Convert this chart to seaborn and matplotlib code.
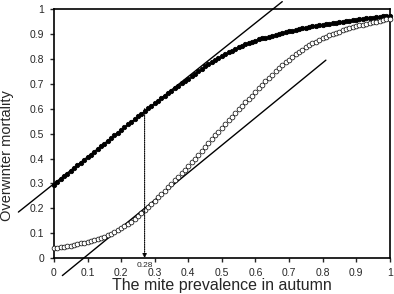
import numpy as np
import pandas as pd
import seaborn as sns
import matplotlib
matplotlib.use("Agg")
import matplotlib.pyplot as plt

sns.set_style("ticks")
plt.rcParams["font.family"] = ["Liberation Sans", "DejaVu Sans"]

# prevalence grid (0 .. 1 by 0.01)
prevalence = [i / 100 for i in range(101)]

# filled curve (upper)
mortality_filled = [
    0.295, 0.306, 0.317, 0.328, 0.339, 0.350, 0.361, 0.372, 0.383, 0.394,
    0.405, 0.416, 0.427, 0.438, 0.449, 0.460, 0.471, 0.482, 0.493, 0.504,
    0.515, 0.526, 0.537, 0.548, 0.559, 0.570, 0.580, 0.591, 0.601, 0.611,
    0.621, 0.632, 0.642, 0.652, 0.662, 0.672, 0.682, 0.692, 0.702, 0.711,
    0.721, 0.731, 0.740, 0.750, 0.760, 0.770, 0.779, 0.788, 0.796, 0.804,
    0.812, 0.819, 0.826, 0.833, 0.840, 0.846, 0.852, 0.858, 0.863, 0.868,
    0.873, 0.878, 0.882, 0.886, 0.890, 0.894, 0.898, 0.901, 0.905, 0.908,
    0.911, 0.914, 0.917, 0.920, 0.923, 0.926, 0.928, 0.931, 0.933, 0.936,
    0.938, 0.940, 0.942, 0.944, 0.946, 0.948, 0.950, 0.952, 0.954, 0.956,
    0.958, 0.960, 0.961, 0.963, 0.965, 0.966, 0.968, 0.969, 0.971, 0.972,
    0.974,
]

# open curve (lower)
mortality_open = [
    0.040, 0.042, 0.044, 0.046, 0.048, 0.050, 0.053, 0.056, 0.059, 0.062,
    0.065, 0.069, 0.073, 0.077, 0.081, 0.086, 0.091, 0.097, 0.104, 0.111,
    0.119, 0.128, 0.137, 0.147, 0.158, 0.170, 0.182, 0.194, 0.206, 0.218,
    0.231, 0.244, 0.257, 0.270, 0.284, 0.298, 0.312, 0.326, 0.340, 0.355,
    0.370, 0.385, 0.400, 0.415, 0.431, 0.446, 0.462, 0.477, 0.493, 0.508,
    0.523, 0.538, 0.553, 0.568, 0.583, 0.597, 0.611, 0.625, 0.639, 0.652,
    0.668, 0.682, 0.696, 0.710, 0.724, 0.737, 0.750, 0.762, 0.774, 0.786,
    0.797, 0.808, 0.818, 0.828, 0.837, 0.846, 0.854, 0.862, 0.869, 0.876,
    0.883, 0.889, 0.895, 0.900, 0.905, 0.910, 0.915, 0.919, 0.923, 0.927,
    0.931, 0.935, 0.938, 0.941, 0.944, 0.947, 0.950, 0.953, 0.956, 0.959,
    0.962,
]

# tangent lines (end points)
tangent_upper_x = [-0.106, 0.68]
tangent_upper_y = [0.185, 1.03]
tangent_lower_x = [0.025, 0.81]
tangent_lower_y = [-0.070, 0.795]

# marked threshold
threshold_x = 0.27
threshold_y = 0.60
threshold_label = "0.28"

ticks = [0, 0.1, 0.2, 0.3, 0.4, 0.5, 0.6, 0.7, 0.8, 0.9, 1]
tick_labels = ["0", "0.1", "0.2", "0.3", "0.4", "0.5", "0.6", "0.7", "0.8", "0.9", "1"]

df = pd.DataFrame({"x": prevalence, "filled": mortality_filled, "open": mortality_open})

fig = plt.figure(figsize=(3.94, 2.94), dpi=100)
ax = fig.add_axes([0.137, 0.122, 0.852, 0.847])

# tangents
sns.lineplot(x=tangent_upper_x, y=tangent_upper_y, color="black", lw=1.0, ax=ax, clip_on=False)
sns.lineplot(x=tangent_lower_x, y=tangent_lower_y, color="black", lw=1.0, ax=ax, clip_on=False)

# curves
sns.scatterplot(data=df, x="x", y="filled", marker="o", s=10, color="black",
                edgecolor="black", linewidth=0.6, ax=ax, clip_on=False, zorder=3)
sns.scatterplot(data=df, x="x", y="open", marker="o", s=12, facecolor="white",
                edgecolor="black", linewidth=0.5, ax=ax, clip_on=False, zorder=3)

# dotted drop line with arrow
ax.annotate("", xy=(threshold_x, 0), xytext=(threshold_x, threshold_y),
            arrowprops=dict(arrowstyle="-|>", linestyle=(0, (1, 1)), lw=0.8,
                            color="black", mutation_scale=6, shrinkA=0, shrinkB=0))
ax.text(threshold_x, -0.015, threshold_label, ha="center", va="top", fontsize=6)

ax.set_xlim(0, 1)
ax.set_ylim(0, 1)
ax.set_xticks(ticks)
ax.set_xticklabels(tick_labels)
ax.set_yticks(ticks)
ax.set_yticklabels(tick_labels)
ax.tick_params(direction="out", length=3, width=1, labelsize=7.5, pad=4)
ax.set_xlabel("The mite prevalence in autumn", fontsize=11.5, labelpad=0)
ax.set_ylabel("Overwinter mortality", fontsize=10.5)
ax.yaxis.set_label_coords(-0.12, 0.41)
for s in ax.spines.values():
    s.set_visible(True)
    s.set_color("black")
    s.set_linewidth(1.2)

fig.savefig("out.png", dpi=100)
